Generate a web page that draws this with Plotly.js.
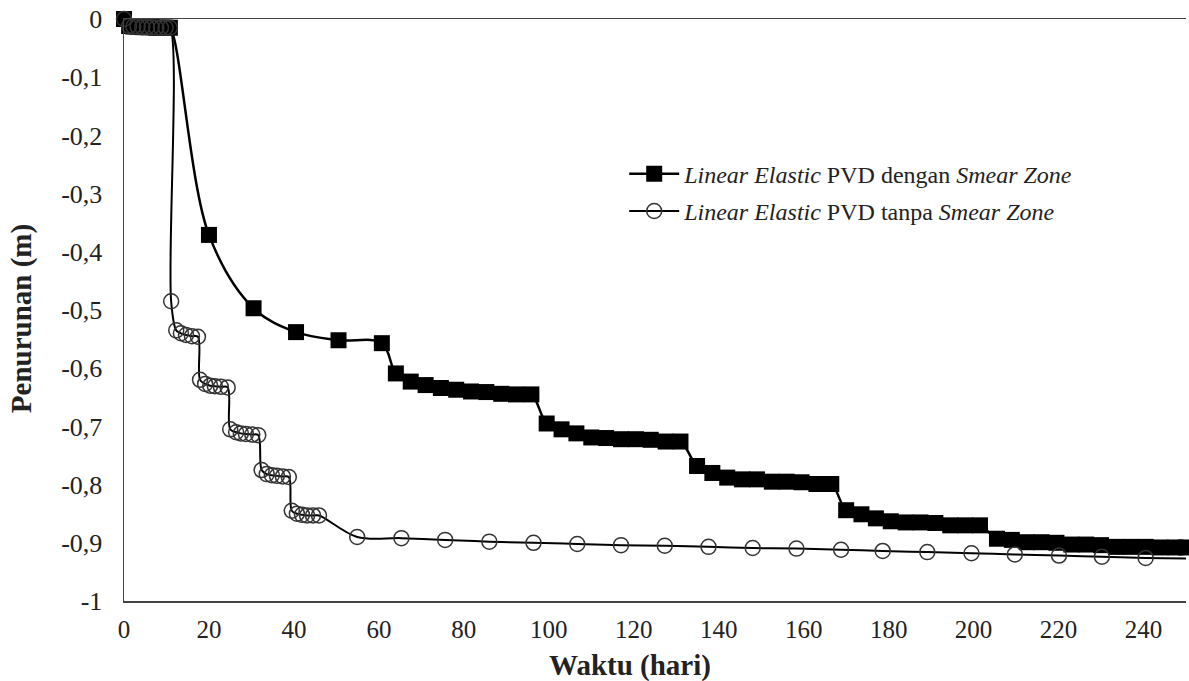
<!DOCTYPE html>
<html>
<head>
<meta charset="utf-8">
<script src="https://cdn.plot.ly/plotly-3.0.1.min.js"></script>
<style>html,body{margin:0;padding:0;background:#fff;}#chart{width:1189px;height:681px;}</style>
</head>
<body>
<div id="chart"></div>
<script>
// Series 1: Linear Elastic PVD dengan Smear Zone (filled squares)
var dayDengan = [0, 1.2, 2.2, 3.2, 4.3, 5.4, 6.5, 7.6, 8.7, 9.8, 10.8,
  20, 30.5, 40.5, 50.5, 60.7,
  64, 67.5, 71, 74.6, 78.2, 81.7, 85.3, 88.8, 92.3, 95.9,
  99.5, 103, 106.5, 110, 113.5, 117, 120.5, 124, 127.5, 131,
  134.9, 138.5, 142, 145.5, 149, 152.5, 156, 159.5, 163, 166.5,
  170, 173.6, 177, 180.5, 184, 187.5, 191, 194.5, 198, 201.5,
  205.5, 209, 212.5, 216, 219.5, 223, 226.5, 230, 233.5, 237, 240.5, 244, 247.5, 250];
var setDengan = [0, -0.012, -0.013, -0.013, -0.014, -0.014, -0.014, -0.015, -0.015, -0.015, -0.015,
  -0.371, -0.497, -0.538, -0.552, -0.557,
  -0.609, -0.623, -0.629, -0.634, -0.637, -0.640, -0.641, -0.644, -0.645, -0.645,
  -0.695, -0.705, -0.712, -0.719, -0.720, -0.722, -0.722, -0.723, -0.726, -0.726,
  -0.768, -0.780, -0.788, -0.791, -0.791, -0.795, -0.795, -0.796, -0.799, -0.799,
  -0.844, -0.851, -0.858, -0.863, -0.865, -0.865, -0.866, -0.870, -0.870, -0.870,
  -0.893, -0.895, -0.899, -0.899, -0.900, -0.903, -0.903, -0.904, -0.907, -0.907, -0.907, -0.908, -0.908, -0.908];

// Series 2: Linear Elastic PVD tanpa Smear Zone (open circles)
var dayTanpa = [0, 1.2, 2.2, 3.2, 4.3, 5.4, 6.5, 7.6, 8.7, 9.8, 10.8,
  11.1, 12.3, 13.4, 14.6, 16.0, 17.4,
  17.9, 19.1, 20.3, 21.4, 22.8, 24.4,
  25.0, 26.4, 27.5, 28.7, 30.2, 31.6,
  32.4, 33.6, 34.8, 36.0, 37.4, 38.8,
  39.5, 40.7, 41.9, 43.1, 44.5, 45.9,
  54.9, 65.3, 75.6, 86.0, 96.4, 106.7, 117.0, 127.3, 137.6, 148.0,
  158.3, 168.8, 178.6, 189.1, 199.5, 209.7, 220.1, 230.2, 240.5, 250.3];
var setTanpa = [0, -0.012, -0.013, -0.013, -0.014, -0.014, -0.014, -0.015, -0.015, -0.015, -0.015,
  -0.485, -0.535, -0.540, -0.543, -0.545, -0.546,
  -0.620, -0.627, -0.630, -0.631, -0.632, -0.633,
  -0.705, -0.710, -0.712, -0.713, -0.714, -0.715,
  -0.775, -0.782, -0.784, -0.785, -0.786, -0.787,
  -0.845, -0.850, -0.852, -0.853, -0.853, -0.853,
  -0.890, -0.892, -0.895, -0.898, -0.900, -0.902, -0.904, -0.905, -0.907, -0.909,
  -0.910, -0.912, -0.914, -0.916, -0.918, -0.920, -0.922, -0.924, -0.926, -0.927];

var xTickVals = [0, 20, 40, 60, 80, 100, 120, 140, 160, 180, 200, 220, 240];
var xTickText = ['0', '20', '40', '60', '80', '100', '120', '140', '160', '180', '200', '220', '240'];
var yTickVals = [0, -0.1, -0.2, -0.3, -0.4, -0.5, -0.6, -0.7, -0.8, -0.9, -1];
var yTickText = ['0', '-0,1', '-0,2', '-0,3', '-0,4', '-0,5', '-0,6', '-0,7', '-0,8', '-0,9', '-1'];

var nameDengan = '<i>Linear Elastic</i> PVD dengan <i>Smear Zone</i>';
var nameTanpa = '<i>Linear Elastic</i> PVD tanpa <i>Smear Zone</i>';
var xTitle = 'Waktu (hari)';
var yTitle = 'Penurunan (m)';

var FONT = 'Liberation Serif';

var traces = [
  {
    x: dayDengan, y: setDengan, name: nameDengan, type: 'scatter', mode: 'lines+markers',
    line: {color: '#000', width: 2.5, shape: 'spline', smoothing: 1},
    marker: {symbol: 'square', size: 16, color: '#000'},
    cliponaxis: false, legendgroup: 'a'
  },
  {
    x: dayTanpa, y: setTanpa, name: nameTanpa, type: 'scatter', mode: 'lines+markers',
    line: {color: '#000', width: 2, shape: 'spline', smoothing: 1},
    marker: {symbol: 'circle-open', size: 15, color: '#333', line: {width: 1.5, color: '#333'}},
    cliponaxis: false, legendgroup: 'b'
  }
];

var layout = {
  width: 1189, height: 681,
  margin: {l: 124, r: 3, t: 19, b: 80},
  paper_bgcolor: '#fff', plot_bgcolor: '#fff',
  font: {family: FONT, color: '#222', size: 24},
  showlegend: true,
  legend: {x: 0.471, y: 0.772, xanchor: 'left', yanchor: 'top', bgcolor: 'rgba(0,0,0,0)',
    itemwidth: 50,
    font: {family: FONT, size: 24, color: '#222'}, tracegroupgap: 3},
  xaxis: {
    range: [0, 250], tickvals: xTickVals, ticktext: xTickText,
    showgrid: false, zeroline: false, showline: true, mirror: true, linecolor: '#444', linewidth: 1.5,
    ticks: '', ticklabelstandoff: 5, tickfont: {family: FONT, size: 25, color: '#222'}
  },
  yaxis: {
    range: [-1, 0], tickvals: yTickVals, ticktext: yTickText,
    showgrid: false, zeroline: false, showline: true, linecolor: '#444', linewidth: 1.5,
    ticks: '', ticklabelstandoff: 15, tickfont: {family: FONT, size: 26, color: '#222'}
  },
  annotations: [
    {text: '<b>' + xTitle + '</b>', xref: 'paper', yref: 'paper', x: 0.476, y: -0.11,
      xanchor: 'center', yanchor: 'middle', showarrow: false, font: {family: FONT, size: 29, color: '#222'}},
    {text: '<b>' + yTitle + '</b>', xref: 'paper', yref: 'paper', x: -0.097, y: 0.486, textangle: -90,
      xanchor: 'center', yanchor: 'middle', showarrow: false, font: {family: FONT, size: 29, color: '#222'}}
  ]
};

Plotly.newPlot('chart', traces, layout, {displayModeBar: false, staticPlot: true});
</script>
</body>
</html>
